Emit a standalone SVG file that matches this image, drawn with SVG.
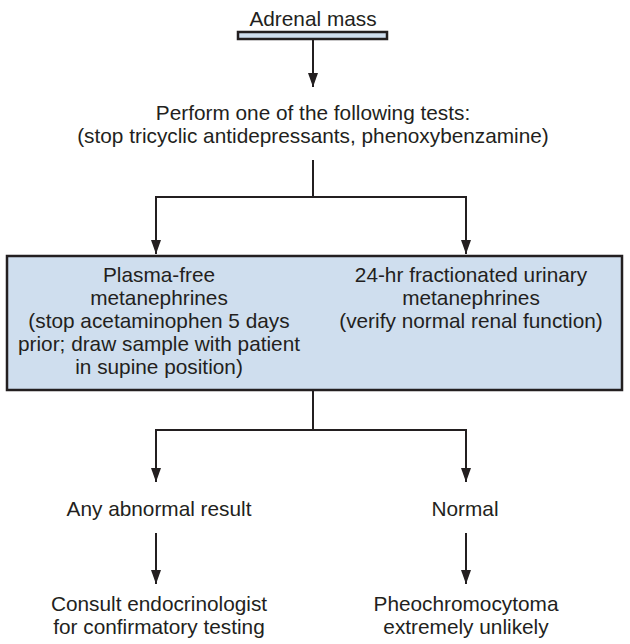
<svg xmlns="http://www.w3.org/2000/svg" width="630" height="644" viewBox="0 0 630 644">
<style>
text{font-family:"Liberation Sans",Arial,sans-serif;font-size:20.8px;fill:#231f20;text-anchor:middle}
.ln{stroke:#231f20;stroke-width:2;fill:none}
.box{fill:#cfdeee;stroke:#231f20;stroke-width:2.5}
</style>
<defs>
<marker id="ah" viewBox="0 0 14 10" refX="14" refY="5" markerWidth="14" markerHeight="10" markerUnits="userSpaceOnUse" orient="auto">
<path d="M0,0 L14,5 L0,10 Z" fill="#231f20"/>
</marker>
</defs>
<rect width="630" height="644" fill="#fff"/>
<g id="adrenal">
<text x="313" y="26">Adrenal mass</text>
<rect class="box" x="238" y="32" width="149" height="7" stroke-width="2"/>
</g>
<g id="perform">
<text x="313" y="120">Perform one of the following tests:</text>
<text x="313" y="143">(stop tricyclic antidepressants, phenoxybenzamine)</text>
</g>
<g id="tests">
<rect class="box" x="7" y="256" width="615" height="134"/>
<text x="159" y="282">Plasma-free</text>
<text x="159" y="305">metanephrines</text>
<text x="159" y="328">(stop acetaminophen 5 days</text>
<text x="159" y="351">prior; draw sample with patient</text>
<text x="159" y="374">in supine position)</text>
<text x="471" y="282">24-hr fractionated urinary</text>
<text x="471" y="305">metanephrines</text>
<text x="471" y="328">(verify normal renal function)</text>
</g>
<g id="abnormal"><text x="159" y="516">Any abnormal result</text></g>
<g id="normal"><text x="465" y="516">Normal</text></g>
<g id="consult">
<text x="159" y="611">Consult endocrinologist</text>
<text x="159" y="634">for confirmatory testing</text>
</g>
<g id="pheo">
<text x="466" y="611">Pheochromocytoma</text>
<text x="466" y="634">extremely unlikely</text>
</g>
<g id="connectors">
<path class="ln" d="M313,40 V87" marker-end="url(#ah)"/>
<path class="ln" d="M313,160 V197 M155,197 H467"/>
<path class="ln" d="M156,196 V254" marker-end="url(#ah)"/>
<path class="ln" d="M466,196 V254" marker-end="url(#ah)"/>
<path class="ln" d="M313,391 V430 M155,430 H467"/>
<path class="ln" d="M156,429 V482" marker-end="url(#ah)"/>
<path class="ln" d="M466,429 V482" marker-end="url(#ah)"/>
<path class="ln" d="M156,533 V584" marker-end="url(#ah)"/>
<path class="ln" d="M466,533 V584" marker-end="url(#ah)"/>
</g>
</svg>
